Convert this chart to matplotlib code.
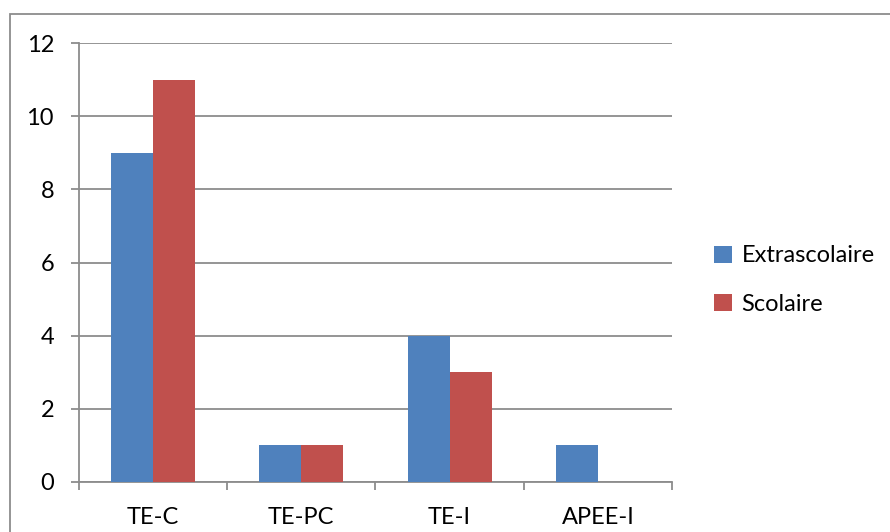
import matplotlib
matplotlib.use("Agg")
import matplotlib.pyplot as plt
import numpy as np
from matplotlib.patches import Rectangle

categories = ["TE-C", "TE-PC", "TE-I", "APEE-I"]
extrascolaire = [9, 1, 4, 1]
scolaire = [11, 1, 3, 0]

plt.rcParams['font.family'] = ['Lato', 'DejaVu Sans']

fig = plt.figure(figsize=(8.9, 5.32), dpi=100)
ax = fig.add_axes([79/890, 50/532, 593/890, 439/532])

x = np.arange(len(categories))
w = 0.284
ax.bar(x - w/2, extrascolaire, w, color="#4F81BD", label="Extrascolaire", zorder=3)
ax.bar(x + w/2, scolaire, w, color="#C0504D", label="Scolaire", zorder=3)

grid_c = "#8c8c8c"
fs = 17
ax.set_xlim(-0.5, len(categories) - 0.5)
ax.set_ylim(0, 12)
ax.set_yticks(range(0, 13, 2))
ax.yaxis.grid(True, color=grid_c, linewidth=1.3, zorder=0)
ax.set_xticks(np.arange(-0.5, len(categories), 1))
ax.set_xticklabels([])
ax.set_xticks(x, minor=True)
ax.set_xticklabels(categories, minor=True)
ax.tick_params(axis="x", which="major", length=6, width=1.3, color=grid_c)
ax.tick_params(axis="x", which="minor", length=0, pad=18, labelsize=fs)
ax.tick_params(axis="y", length=6, width=1.3, color=grid_c, pad=12, labelsize=fs)
for s in ["top", "right"]:
    ax.spines[s].set_visible(False)
for s in ["left", "bottom"]:
    ax.spines[s].set_color(grid_c)
    ax.spines[s].set_linewidth(1.3)

leg = fig.legend(loc="center left", bbox_to_anchor=(693/890, 1 - 280/532), frameon=False,
                 fontsize=fs, handlelength=0.75, handleheight=0.75, handletextpad=0.4,
                 labelspacing=1.15)

fig.patches.append(Rectangle((10/890, -0.01), 1.0, 1 - 14/532 + 0.01, transform=fig.transFigure,
                             fill=False, edgecolor="#8c8c8c", linewidth=1.3))

fig.savefig("out.png", dpi=100)
